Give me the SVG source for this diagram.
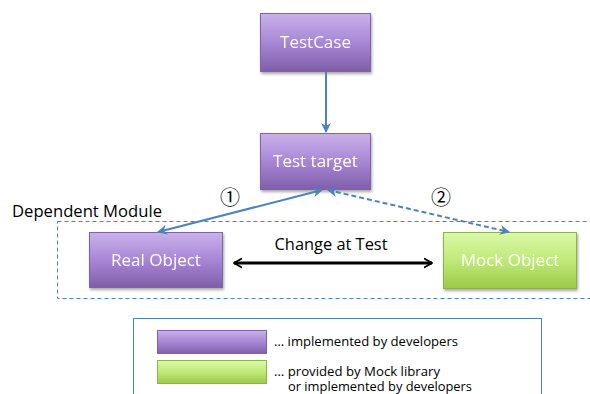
<svg xmlns="http://www.w3.org/2000/svg" width="590" height="394" viewBox="0 0 590 394">
<defs>
<linearGradient id="gp" x1="0" y1="0" x2="0" y2="1">
<stop offset="0" stop-color="#c9b2ea"/>
<stop offset="0.5" stop-color="#a886d6"/>
<stop offset="1" stop-color="#7f5ea9"/>
</linearGradient>
<linearGradient id="gg" x1="0" y1="0" x2="0" y2="1">
<stop offset="0" stop-color="#dbf9a6"/>
<stop offset="0.5" stop-color="#c0e97a"/>
<stop offset="1" stop-color="#9acb45"/>
</linearGradient>
<filter id="sh" x="-10%" y="-10%" width="125%" height="130%">
<feGaussianBlur in="SourceAlpha" stdDeviation="1.5"/>
<feOffset dx="1" dy="2"/>
<feComponentTransfer><feFuncA type="linear" slope="0.35"/></feComponentTransfer>
<feMerge><feMergeNode/><feMergeNode in="SourceGraphic"/></feMerge>
</filter>
<marker id="ab" viewBox="0 0 10 10" refX="9" refY="5" markerWidth="5" markerHeight="5" orient="auto-start-reverse" markerUnits="strokeWidth">
<path d="M0,0 L10,5 L0,10 L3,5 Z" fill="#4f81bd"/>
</marker>
<marker id="ak" viewBox="0 0 10 10" refX="8" refY="5" markerWidth="3.5" markerHeight="4" orient="auto-start-reverse" markerUnits="strokeWidth">
<path d="M1,1 L8,5 L1,9" fill="none" stroke="#000" stroke-width="1.8" stroke-linecap="round" stroke-linejoin="round"/>
</marker>
</defs>
<style>
.p{fill:url(#gp);stroke:#7f63a3;stroke-width:1}
.g{fill:url(#gg);stroke:#8fb24e;stroke-width:1}
.nt{font-family:"Open Sans","Liberation Sans",sans-serif;font-size:17px;fill:#ffffff;text-anchor:middle}
.t{font-family:"Open Sans","Liberation Sans",sans-serif;fill:#000}
.c{stroke:#4f81bd;stroke-width:2;fill:none}
.n{font-family:"Noto Sans CJK JP","DejaVu Sans",sans-serif;font-size:20px;fill:#000;text-anchor:middle}
</style>
<rect width="590" height="394" fill="#ffffff"/>
<g id="module">
<rect x="57.5" y="221.5" width="540" height="77" fill="none" stroke="#4f81bd" stroke-width="1" stroke-dasharray="4,3"/>
<text class="t" x="12" y="217" font-size="16.5" textLength="150" lengthAdjust="spacingAndGlyphs">Dependent Module</text>
</g>
<g id="testcase" filter="url(#sh)">
<rect class="p" x="260.5" y="13.5" width="110" height="58"/>
<text class="nt" x="315.5" y="48">TestCase</text>
</g>
<g id="testtarget" filter="url(#sh)">
<rect class="p" x="260.5" y="133.5" width="110" height="56"/>
<text class="nt" x="315.5" y="167">Test target</text>
</g>
<g id="realobject" filter="url(#sh)">
<rect class="p" x="89.5" y="232.5" width="133" height="55"/>
<text class="nt" x="156" y="266">Real Object</text>
</g>
<g id="mockobject" filter="url(#sh)">
<rect class="g" x="443.5" y="232.5" width="133" height="56"/>
<text class="nt" x="510" y="266">Mock Object</text>
</g>
<g id="connectors">
<line class="c" x1="326" y1="72" x2="326" y2="132" marker-end="url(#ab)"/>
<line class="c" x1="322" y1="190" x2="158" y2="232" marker-start="url(#ab)" marker-end="url(#ab)"/>
<line class="c" x1="328" y1="190" x2="509" y2="232" stroke-dasharray="5,3" marker-start="url(#ab)" marker-end="url(#ab)"/>
<line x1="234" y1="263" x2="432" y2="263" stroke="#000" stroke-width="3" marker-start="url(#ak)" marker-end="url(#ak)"/>
<text class="n" x="230" y="205">①</text>
<text class="n" x="441" y="205">②</text>
<text class="t" x="331" y="250" font-size="16" text-anchor="middle" textLength="113" lengthAdjust="spacingAndGlyphs">Change at Test</text>
</g>
<g id="legend">
<rect x="133.5" y="318.5" width="408" height="90" fill="#ffffff" stroke="#4f81bd" stroke-width="1"/>
<rect class="p" x="157.5" y="330.5" width="109" height="23"/>
<rect class="g" x="157.5" y="360.5" width="109" height="23"/>
<text class="t" x="274" y="346" font-size="12.5" textLength="184" lengthAdjust="spacingAndGlyphs">… implemented by developers</text>
<text class="t" x="274" y="376" font-size="12.5" textLength="166" lengthAdjust="spacingAndGlyphs">… provided by Mock library</text>
<text class="t" x="288" y="390.5" font-size="12.5" textLength="184" lengthAdjust="spacingAndGlyphs">or implemented by developers</text>
</g>
</svg>
